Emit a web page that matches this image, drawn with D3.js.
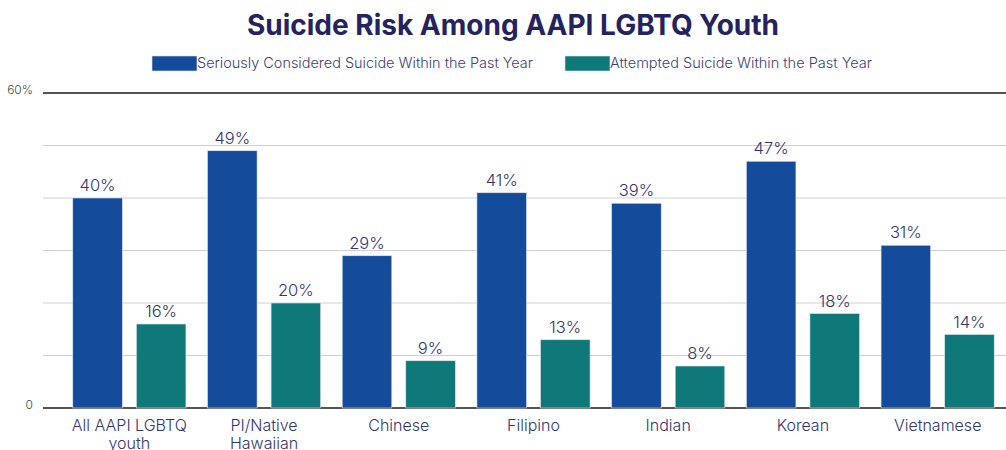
<!DOCTYPE html>
<html>
<head>
<meta charset="utf-8">
<script src="https://cdn.jsdelivr.net/npm/d3@7"></script>
<style>
  body { margin: 0; background: #fff; }
  text { font-family: Inter, "Noto Sans", sans-serif; }
</style>
</head>
<body>
<div id="vis"></div>
<script>
// Chart data
const categories = [["All AAPI LGBTQ", "youth"], ["PI/Native", "Hawaiian"], ["Chinese"], ["Filipino"], ["Indian"], ["Korean"], ["Vietnamese"]];
const seriesNames = ["Seriously Considered Suicide Within the Past Year", "Attempted Suicide Within the Past Year"];
const considered = [40, 49, 29, 41, 39, 47, 31];
const attempted = [16, 20, 9, 13, 8, 18, 14];
const gridTicks = [0, 10, 20, 30, 40, 50, 60];

width = 1006;
height = 450;
const colors = ["#154b9b", "#0f7979"];
const navy = "#33366f";

let svg = d3.select("#vis").append("svg").attr("width", width).attr("height", height);

let x0 = d3.scaleBand()
    .domain(d3.range(categories.length))
    .range([62, 1005])
    .paddingInner(0.16)
    .paddingOuter(0.08);
let x1 = d3.scaleBand()
    .domain([0, 1])
    .range([0, x0.bandwidth()])
    .paddingInner(0.22);
let y = d3.scaleLinear()
    .domain([0, 60])
    .range([408, 93]);

// Title
svg.append("text")
    .attr("x", 513).attr("y", 35)
    .attr("text-anchor", "middle")
    .style("font-size", "28px").style("font-weight", "700")
    .attr("fill", "#24235e")
    .text("Suicide Risk Among AAPI LGBTQ Youth");

// Legend
const legendX = [152, 565];
seriesNames.forEach((name, i) => {
  svg.append("rect").attr("x", legendX[i]).attr("y", 56).attr("width", 45).attr("height", 15)
      .attr("fill", colors[i]).attr("stroke", "#e0e6f0").attr("stroke-width", 0.6);
  svg.append("text").attr("x", legendX[i] + 45).attr("y", 68)
      .style("font-size", "14px").style("font-weight", "300").attr("fill", "#3d4077")
      .attr("textLength", i === 0 ? 336 : 262).attr("lengthAdjust", "spacingAndGlyphs")
      .text(name);
});

// Gridlines
svg.append("g").selectAll("line").data(gridTicks).enter().append("line")
    .attr("x1", 43).attr("x2", width)
    .attr("y1", d => y(d)).attr("y2", d => y(d))
    .attr("stroke", d => (d === 0 || d === 60) ? "#555" : "#d0d0d0")
    .attr("stroke-width", d => (d === 0 || d === 60) ? 2 : 1);

// Y labels (only ends)
svg.append("text").attr("x", 33).attr("y", y(60) + 1).attr("text-anchor", "end")
    .style("font-size", "12px").style("font-weight", "300").attr("fill", "#444").text("60%");
svg.append("text").attr("x", 33).attr("y", y(0) + 1).attr("text-anchor", "end")
    .style("font-size", "12px").style("font-weight", "300").attr("fill", "#444").text("0");

// Bars
const rows = categories.map((c, i) => ({i: i, vals: [considered[i], attempted[i]]}));
let groups = svg.append("g").selectAll("g").data(rows).enter().append("g")
    .attr("transform", d => `translate(${x0(d.i)},0)`);

groups.selectAll("rect").data(d => d.vals.map((v, k) => ({k: k, v: v}))).enter().append("rect")
    .attr("x", d => x1(d.k))
    .attr("y", d => y(d.v))
    .attr("width", x1.bandwidth())
    .attr("height", d => y(0) - y(d.v))
    .attr("fill", d => colors[d.k])
    .attr("stroke", "#dfe6ee").attr("stroke-width", 0.6);

groups.selectAll("text.val").data(d => d.vals.map((v, k) => ({k: k, v: v}))).enter().append("text")
    .attr("class", "val")
    .attr("x", d => x1(d.k) + x1.bandwidth() / 2)
    .attr("y", d => y(d.v) - 7)
    .attr("text-anchor", "middle")
    .style("font-size", "16.5px").style("font-weight", "300").attr("fill", navy)
    .text(d => d.v + "%");

// Category labels
groups.append("text")
    .attr("x", x0.bandwidth() / 2)
    .attr("y", 431)
    .attr("text-anchor", "middle")
    .style("font-size", "16px").style("font-weight", "300").attr("fill", navy)
    .selectAll("tspan").data((d) => categories[d.i]).enter().append("tspan")
    .attr("x", x0.bandwidth() / 2)
    .attr("dy", (d, j) => j === 0 ? 0 : 18)
    .text(d => d);
</script>
</body>
</html>
